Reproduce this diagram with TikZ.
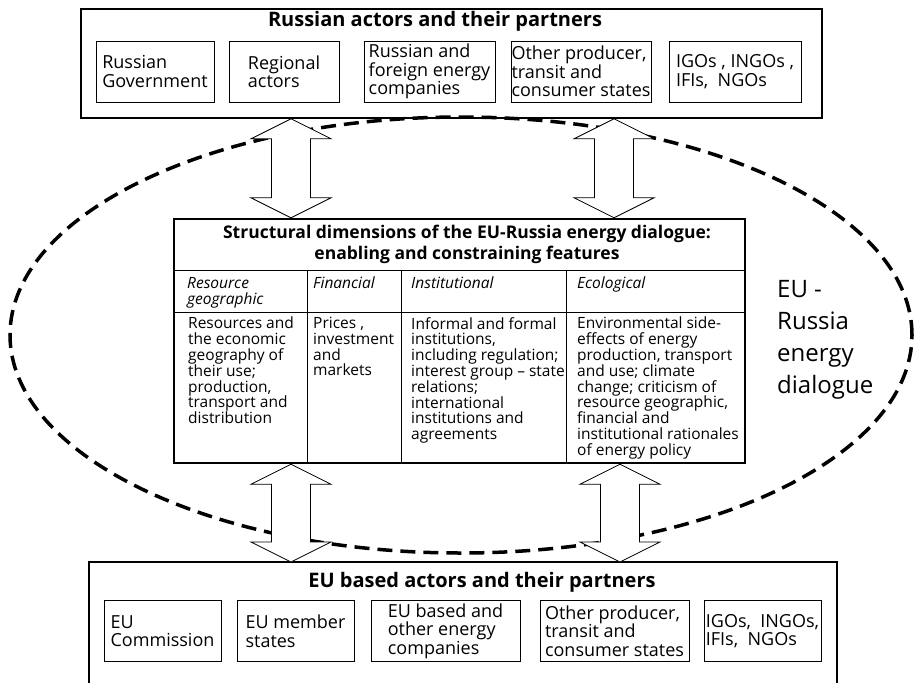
\documentclass[tikz,border=0pt]{standalone}
\usepackage{fontspec}
\setmainfont{Open Sans}
\usetikzlibrary{positioning,calc}

% two-headed block arrow, tip at #1 (top) and tip at #2 (bottom)
\newcommand{\twoway}[2]{%
  \draw[blockarrow] let \p1=(#1), \p2=(#2) in
    (\x1,\y1) -- (\x1+40pt,\y1-20pt) -- (\x1+19.5pt,\y1-20pt)
    -- (\x1+19.5pt,\y2+20pt) -- (\x1+40pt,\y2+20pt) -- (\x1,\y2)
    -- (\x1-40pt,\y2+20pt) -- (\x1-19.5pt,\y2+20pt)
    -- (\x1-19.5pt,\y1-20pt) -- (\x1-40pt,\y1-20pt) -- cycle;}

\begin{document}
\begin{tikzpicture}[x=1pt, y=-1pt, every node/.style={font=\fontsize{18}{18.5}\selectfont}]
  \tikzset{
    group/.style={draw, line width=1.6pt},
    title/.style={font=\fontsize{20}{20}\selectfont\bfseries, inner sep=0pt},
    actor/.style={draw, line width=0.8pt, align=left, minimum height=61pt, inner sep=0pt},
    cell/.style={anchor=north west, align=left, inner sep=0pt, font=\fontsize{15.5}{15.8}\selectfont},
    head/.style={cell, font=\fontsize{15.5}{16}\selectfont\itshape},
    blockarrow/.style={draw, line width=0.8pt, fill=white, line join=miter},
    dialogue/.style={line width=3.5pt, dash pattern=on 15pt off 8pt}
  }
  \useasboundingbox (0,0) rectangle (915,683);

  % dashed ring of the dialogue
  \draw[dialogue] (461,335) ellipse [x radius=451pt, y radius=218pt];
  \node[anchor=west, align=left, inner sep=0pt, font=\fontsize{24}{32}\selectfont] (ring) at (777,340) {EU -\\Russia\\energy\\dialogue};

  % Russian side
  \node[group, minimum width=741pt, minimum height=109pt] (rus) at (451.5,63.5) {};
  \node[title] (rustitle) at (435,21) {Russian actors and their partners};
  \node[actor, minimum width=118pt] (rgov) at (155,71.5)   {Russian\\Government};
  \node[actor, minimum width=110pt] (rreg) at (284,71.5)   {Regional\\actors};
  \node[actor, minimum width=131pt] (rcom) at (429.5,71.5) {Russian and\\foreign energy\\companies};
  \node[actor, minimum width=140pt] (roth) at (581,71.5)   {Other producer,\\transit and\\consumer states};
  \node[actor, minimum width=132pt] (rigo) at (735,71.5)   {IGOs , INGOs ,\\IFIs,\ \ NGOs};

  % structural dimensions
  \node[group, line width=2.4pt, minimum width=571pt, minimum height=244pt] (mid) at (459.5,341) {};
  \node[title, font=\fontsize{17.5}{21}\selectfont\bfseries, align=center] (midtitle) at (467,244.5)
    {Structural dimensions of the EU-Russia energy dialogue:\\enabling and constraining features};
  \draw[line width=0.8pt] (mid.west |- 0,270) -- (mid.east |- 0,270);
  \draw[line width=0.8pt] (mid.west |- 0,312) -- (mid.east |- 0,312);
  \foreach \cx in {307,401,566}
    \draw[line width=0.8pt] (\cx,270) -- (\cx,0 |- mid.south);

  \node[head] (hres) at (187,277) {Resource\\geographic};
  \node[head] (hfin) at (313,277) {Financial};
  \node[head] (hins) at (411,277) {Institutional};
  \node[head] (heco) at (577,277) {Ecological};

  \node[cell] (bres) at (188,317) {Resources and\\the economic\\geography of\\their use;\\production,\\transport and\\distribution};
  \node[cell] (bfin) at (313,317) {Prices ,\\investment\\and\\markets};
  \node[cell] (bins) at (411,317) {Informal and formal\\institutions,\\including regulation;\\interest group -- state\\relations;\\international\\institutions and\\agreements};
  \node[cell] (beco) at (577,317) {Environmental side-\\effects of energy\\production, transport\\and use; climate\\change; criticism of\\resource geographic,\\financial and\\institutional rationales\\of energy policy};

  % EU side (box runs off the bottom edge)
  \draw[group] (89,683) |- (837,562) -- (837,683);
  \coordinate (eutop) at (463,562);
  \node[title] (eutitle) at (482,582) {EU based actors and their partners};
  \node[actor, minimum width=117pt] (ecom) at (162.5,631) {EU\\Commission};
  \node[actor, minimum width=117pt] (emem) at (295.5,631) {EU member\\states};
  \node[actor, minimum width=149pt] (eeco) at (445.5,631) {EU based and\\other energy\\companies};
  \node[actor, minimum width=149pt] (eoth) at (614.5,631) {Other producer,\\transit and\\consumer states};
  \node[actor, minimum width=117pt] (eigo) at (762.5,631) {IGOs,\ \ INGOs,\\IFIs,\ \ NGOs};

  % arrows between the levels
  \twoway{291,0 |- rus.south}{291,0 |- mid.north}
  \twoway{614,0 |- rus.south}{614,0 |- mid.north}
  \twoway{291,0 |- mid.south}{291,0 |- eutop}
  \twoway{620,0 |- mid.south}{620,0 |- eutop}
\end{tikzpicture}
\end{document}
